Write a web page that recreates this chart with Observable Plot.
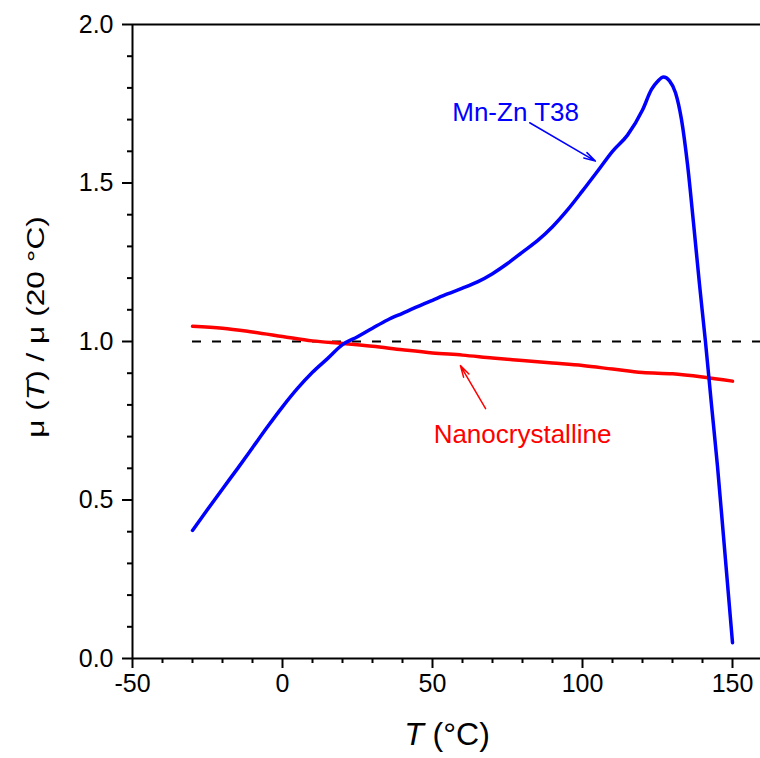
<!DOCTYPE html>
<html>
<head>
<meta charset="utf-8">
<script src="https://cdn.jsdelivr.net/npm/d3@7"></script>
<script src="https://cdn.jsdelivr.net/npm/@observablehq/plot@0.6"></script>
<style>
  html, body { margin: 0; padding: 0; background: #fff; overflow: hidden; }
  #chart svg { display: block; }
</style>
</head>
<body>
<div id="chart"></div>
<script>
// Relative permeability mu(T)/mu(20 °C) versus temperature
const mnznT  = [-30, -25, -20, -15, -10, -5, 0, 5, 10, 15, 20, 25, 30, 35, 40, 45, 50, 55, 60, 65, 70, 75, 80, 85, 90, 95, 100, 105, 110, 115, 120, 123, 125, 127, 129, 131, 133, 135, 137, 139, 141, 143, 145, 147, 150];
const mnznMu = [0.404, 0.470, 0.535, 0.599, 0.665, 0.731, 0.794, 0.852, 0.903, 0.946, 0.990, 1.015, 1.042, 1.068, 1.089, 1.110, 1.130, 1.150, 1.168, 1.188, 1.214, 1.246, 1.282, 1.318, 1.362, 1.415, 1.475, 1.537, 1.600, 1.651, 1.730, 1.795, 1.820, 1.834, 1.822, 1.785, 1.700, 1.559, 1.374, 1.180, 0.998, 0.800, 0.606, 0.385, 0.050];

const nanoT  = [-30, -20, -10, 0, 10, 20, 30, 40, 50, 60, 70, 80, 90, 100, 110, 120, 130, 140, 150];
const nanoMu = [1.048, 1.042, 1.030, 1.016, 1.002, 0.994, 0.985, 0.974, 0.964, 0.957, 0.948, 0.940, 0.932, 0.924, 0.913, 0.902, 0.898, 0.888, 0.875];

const refLevel = 1.0;

const xTicks = [-50, 0, 50, 100, 150];
const xMinor = [-40, -30, -20, -10, 10, 20, 30, 40, 60, 70, 80, 90, 110, 120, 130, 140];
const yTicks = [0, 0.5, 1.0, 1.5, 2.0];
const yMinor = [0.1, 0.2, 0.3, 0.4, 0.6, 0.7, 0.8, 0.9, 1.1, 1.2, 1.3, 1.4, 1.6, 1.7, 1.8, 1.9];

const mnzn = mnznT.map((t, i) => ({T: t, mu: mnznMu[i]}));
const nano = nanoT.map((t, i) => ({T: t, mu: nanoMu[i]}));

const BLUE = "#0000ff";
const RED = "#ff0000";
const FONT = "'Liberation Sans', Arial, sans-serif";

const chart = Plot.plot({
  width: 760,
  height: 758,
  marginLeft: 132,
  marginRight: 0,
  marginTop: 24,
  marginBottom: 100,
  style: {fontFamily: FONT, background: "#fff", color: "#000"},
  x: {domain: [-50, 160], range: [132, 762], label: null},
  y: {domain: [0, 2], range: [658, 24], label: null},
  marks: [
    // reference level at mu(T)/mu(20 °C) = 1
    Plot.ruleY([refLevel], {x1: -30, x2: 160, stroke: "#000", strokeWidth: 2, strokeDasharray: "9,11"}),

    Plot.line(nano, {x: "T", y: "mu", stroke: RED, strokeWidth: 3.5, curve: "monotone-x"}),
    Plot.line(mnzn, {x: "T", y: "mu", stroke: BLUE, strokeWidth: 3.5, curve: "monotone-x"}),

    // frame: left, bottom and top edges
    Plot.ruleX([-50], {y1: 0, y2: 2, stroke: "#000", strokeWidth: 2}),
    Plot.ruleY([0], {x1: -50, x2: 160, stroke: "#000", strokeWidth: 2}),
    Plot.ruleY([2], {x1: -50, x2: 160, stroke: "#000", strokeWidth: 2}),

    // axes
    Plot.axisX(xTicks, {tickSize: 10, tickPadding: 6, strokeWidth: 2, fontSize: 25, tickFormat: d => String(d), label: null}),
    Plot.axisX(xMinor, {tickSize: 5, strokeWidth: 2, tickFormat: () => "", label: null}),
    Plot.axisY(yTicks, {tickSize: 10, tickPadding: 9, strokeWidth: 2, fontSize: 25, tickFormat: d3.format(".1f"), label: null}),
    Plot.axisY(yMinor, {tickSize: 5, strokeWidth: 2, tickFormat: () => "", label: null}),

    // annotations
    Plot.text(["Mn-Zn T38"], {x: 77.7, y: 1.721, text: d => d, fill: BLUE, fontSize: 26, textAnchor: "middle"}),
    Plot.arrow([0], {x1: 82.4, y1: 1.690, x2: 104.3, y2: 1.569, stroke: BLUE, strokeWidth: 1.5, headLength: 12, headAngle: 30}),
    Plot.text(["Nanocrystalline"], {x: 80, y: 0.705, text: d => d, fill: RED, fontSize: 26, textAnchor: "middle"}),
    Plot.arrow([0], {x1: 67.7, y1: 0.788, x2: 59.3, y2: 0.924, stroke: RED, strokeWidth: 1.5, headLength: 12, headAngle: 30})
  ]
});

document.getElementById("chart").appendChild(chart);

// axis titles with italic T
const svg = d3.select(chart);
const xt = svg.append("text")
  .attr("x", 447).attr("y", 745)
  .attr("text-anchor", "middle")
  .attr("font-family", FONT).attr("font-size", 32).attr("fill", "#000");
xt.append("tspan").attr("font-style", "italic").text("T");
xt.append("tspan").text(" (°C)");

const yt = svg.append("text")
  .attr("transform", "translate(44,327) rotate(-90) scale(1.32,1)")
  .attr("text-anchor", "middle")
  .attr("font-family", FONT).attr("font-size", 24).attr("fill", "#000");
yt.append("tspan").text("μ (");
yt.append("tspan").attr("font-style", "italic").text("T");
yt.append("tspan").text(") / μ (20 °C)");
</script>
</body>
</html>
